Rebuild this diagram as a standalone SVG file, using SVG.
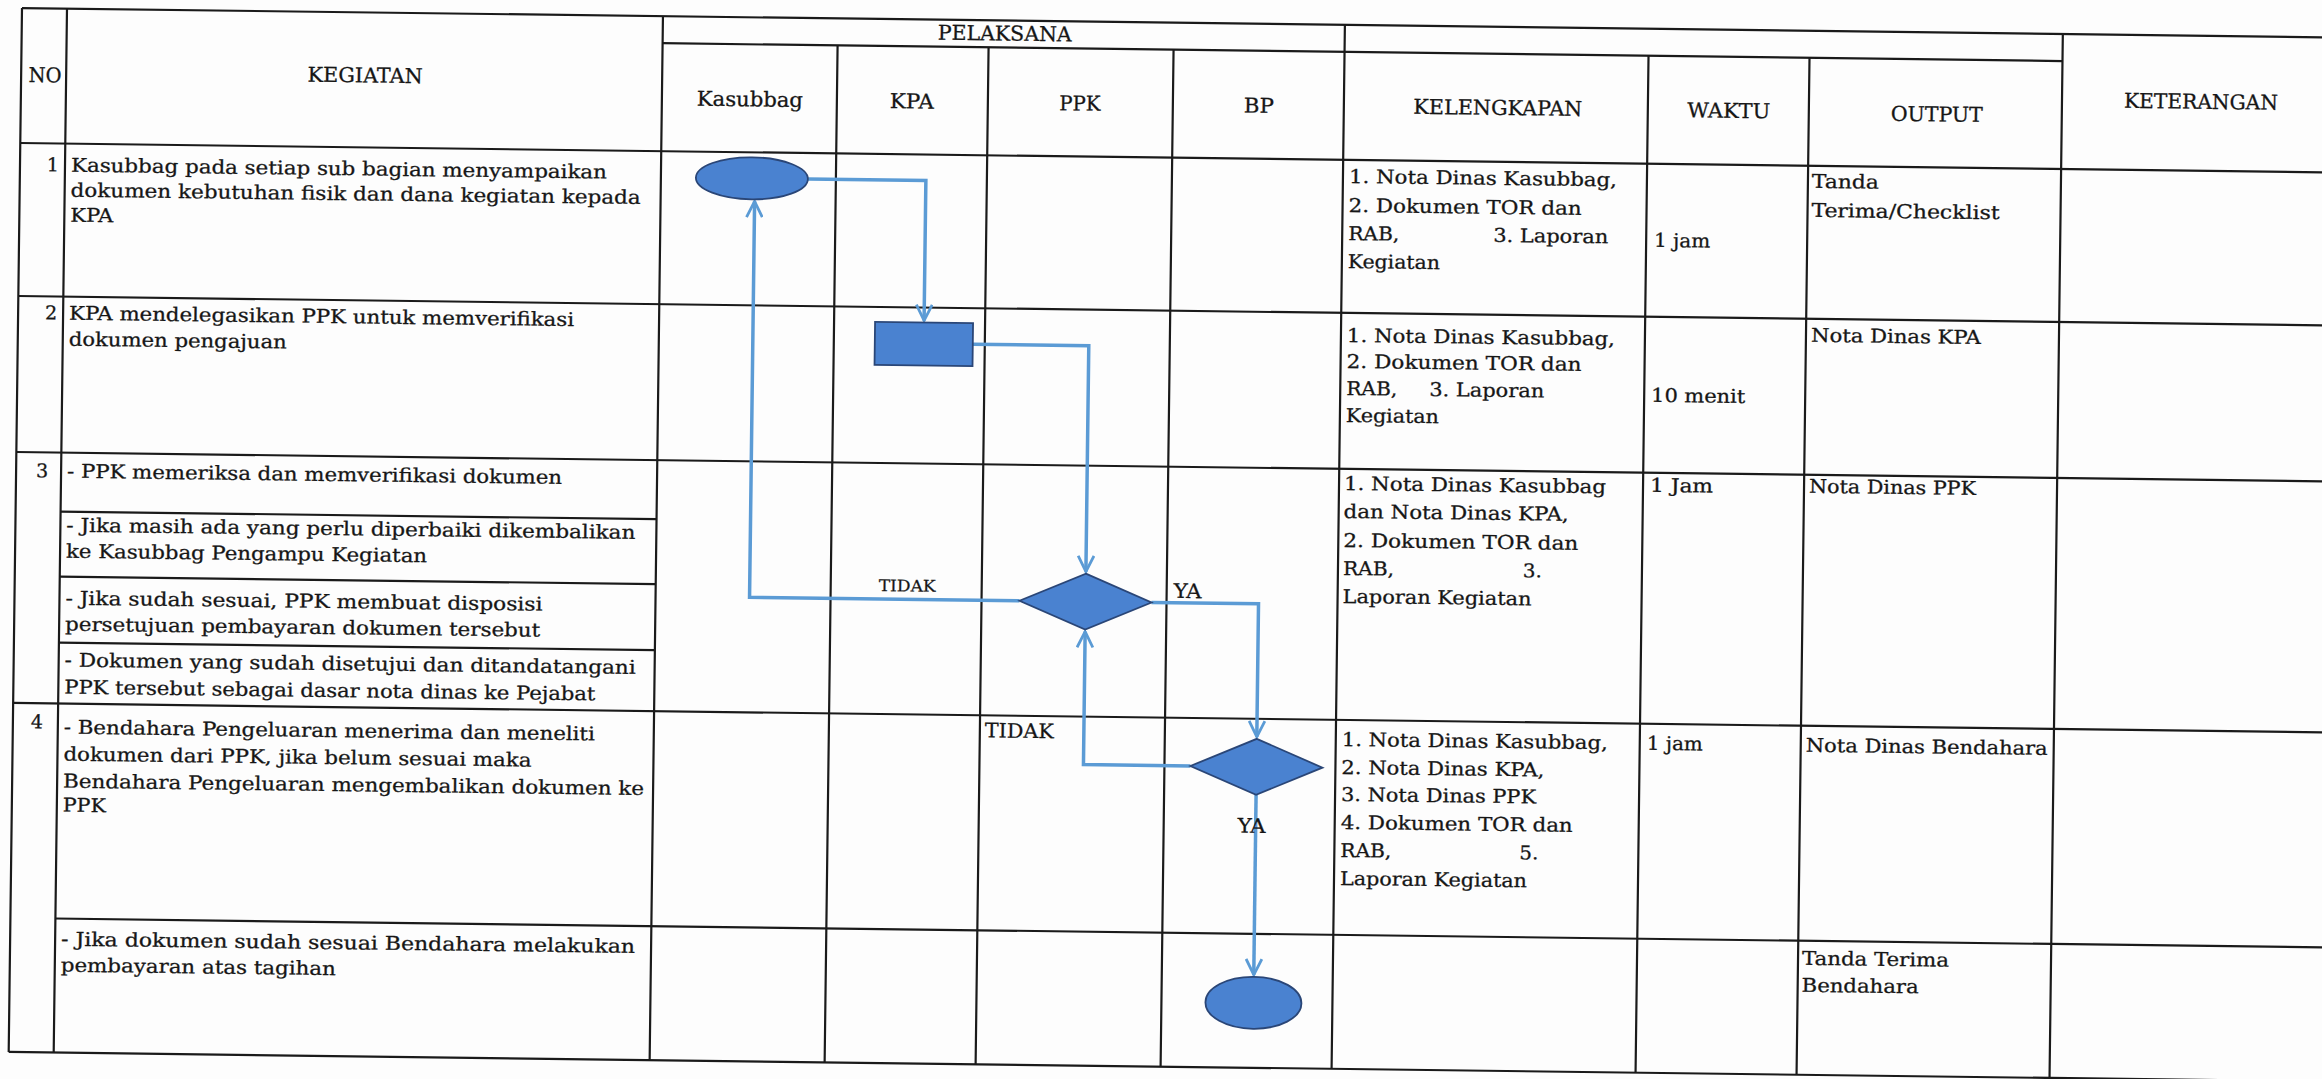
<svg xmlns="http://www.w3.org/2000/svg" width="2322" height="1079" viewBox="0 0 2322 1079">
<defs>
<style>
.ln{stroke:#1a1a1a;stroke-width:2.2;fill:none}
.t{font-family:"DejaVu Serif","Liberation Serif",serif;font-size:19px;fill:#161616;stroke:#161616;stroke-width:0.3}
.h{font-family:"DejaVu Serif","Liberation Serif",serif;font-size:20.5px;fill:#161616;stroke:#161616;stroke-width:0.3;text-anchor:middle}
.lb{font-family:"DejaVu Serif","Liberation Serif",serif;fill:#161616;stroke:#161616;stroke-width:0.25}
.c{stroke:#5b9bd5;stroke-width:3.5;fill:none}
.shape{fill:#4a82d0;stroke:#2a4677;stroke-width:1.8}
</style>
<marker id="arr" viewBox="0 0 16 16" refX="15" refY="8" markerWidth="18" markerHeight="18" markerUnits="userSpaceOnUse" orient="auto">
<path d="M1,1 L15,8 L1,15" fill="none" stroke="#5b9bd5" stroke-width="2.5"/>
</marker>
</defs>
<rect width="2322" height="1079" fill="#fdfdfd"/>
<g transform="rotate(0.73 20 8)">
<g id="table" class="ln">
<path d="M22,8 H2360 M663,35 H2063 M22,143 H2360 M22,296 H2360 M22,452 H2360 M67,511 H663 M67,576 H663 M67,642 H663 M22,703 H2360 M67,918 H2360 M22,1052 H2360"/>
<path d="M22,8 V1052 M67,8 V1052 M663,8 V1052 M838,35 V1052 M989,35 V1052 M1174,35 V1052 M1345,8 V1052 M1649,35 V1052 M1810,35 V1052 M2063,8 V1052"/>
</g>
<g id="header">
<text class="h" x="46" y="82" textLength="33" lengthAdjust="spacingAndGlyphs">NO</text>
<text class="h" x="366" y="78" textLength="115" lengthAdjust="spacingAndGlyphs">KEGIATAN</text>
<text class="h" x="1005" y="28" textLength="134" lengthAdjust="spacingAndGlyphs">PELAKSANA</text>
<text class="h" x="751" y="97" textLength="106" lengthAdjust="spacingAndGlyphs">Kasubbag</text>
<text class="h" x="913" y="97" textLength="44" lengthAdjust="spacingAndGlyphs">KPA</text>
<text class="h" x="1081" y="97" textLength="41" lengthAdjust="spacingAndGlyphs">PPK</text>
<text class="h" x="1260" y="97" textLength="30" lengthAdjust="spacingAndGlyphs">BP</text>
<text class="h" x="1499" y="96" textLength="169" lengthAdjust="spacingAndGlyphs">KELENGKAPAN</text>
<text class="h" x="1730" y="96" textLength="83" lengthAdjust="spacingAndGlyphs">WAKTU</text>
<text class="h" x="1938" y="97" textLength="92" lengthAdjust="spacingAndGlyphs">OUTPUT</text>
<text class="h" x="2202" y="81" textLength="154" lengthAdjust="spacingAndGlyphs">KETERANGAN</text>
</g>
<g id="kegiatan">
<text class="t" x="61" y="171" text-anchor="end">1</text>
<text class="t" x="61" y="319" text-anchor="end">2</text>
<text class="t" x="42" y="477">3</text>
<text class="t" x="40" y="728">4</text>
<text class="t" x="73" y="171" textLength="536" lengthAdjust="spacingAndGlyphs">Kasubbag pada setiap sub bagian menyampaikan</text>
<text class="t" x="73" y="196" textLength="570" lengthAdjust="spacingAndGlyphs">dokumen kebutuhan fisik dan dana kegiatan kepada</text>
<text class="t" x="73" y="221" textLength="43" lengthAdjust="spacingAndGlyphs">KPA</text>
<text class="t" x="73" y="319" textLength="505" lengthAdjust="spacingAndGlyphs">KPA mendelegasikan PPK untuk memverifikasi</text>
<text class="t" x="73" y="345" textLength="218" lengthAdjust="spacingAndGlyphs">dokumen pengajuan</text>
<text class="t" x="73" y="477" textLength="495" lengthAdjust="spacingAndGlyphs">- PPK memeriksa dan memverifikasi dokumen</text>
<text class="t" x="73" y="531" textLength="569" lengthAdjust="spacingAndGlyphs">- Jika masih ada yang perlu diperbaiki dikembalikan</text>
<text class="t" x="73" y="557" textLength="361" lengthAdjust="spacingAndGlyphs">ke Kasubbag Pengampu Kegiatan</text>
<text class="t" x="73" y="604" textLength="477" lengthAdjust="spacingAndGlyphs">- Jika sudah sesuai, PPK membuat disposisi</text>
<text class="t" x="73" y="630" textLength="475" lengthAdjust="spacingAndGlyphs">persetujuan pembayaran dokumen tersebut</text>
<text class="t" x="73" y="666" textLength="571" lengthAdjust="spacingAndGlyphs">- Dokumen yang sudah disetujui dan ditandatangani</text>
<text class="t" x="73" y="693" textLength="531" lengthAdjust="spacingAndGlyphs">PPK tersebut sebagai dasar nota dinas ke Pejabat</text>
<text class="t" x="73" y="733" textLength="531" lengthAdjust="spacingAndGlyphs">- Bendahara Pengeluaran menerima dan meneliti</text>
<text class="t" x="73" y="760" textLength="468" lengthAdjust="spacingAndGlyphs">dokumen dari PPK, jika belum sesuai maka</text>
<text class="t" x="73" y="787" textLength="581" lengthAdjust="spacingAndGlyphs">Bendahara Pengeluaran mengembalikan dokumen ke</text>
<text class="t" x="73" y="811" textLength="43" lengthAdjust="spacingAndGlyphs">PPK</text>
<text class="t" x="73" y="945" textLength="574" lengthAdjust="spacingAndGlyphs">- Jika dokumen sudah sesuai Bendahara melakukan</text>
<text class="t" x="73" y="971" textLength="275" lengthAdjust="spacingAndGlyphs">pembayaran atas tagihan</text>
</g>
<g id="kelengkapan">
<text class="t" x="1351" y="166" textLength="268" lengthAdjust="spacingAndGlyphs">1. Nota Dinas Kasubbag,</text>
<text class="t" x="1351" y="195" textLength="233" lengthAdjust="spacingAndGlyphs">2. Dokumen TOR dan</text>
<text class="t" x="1351" y="223" textLength="51" lengthAdjust="spacingAndGlyphs">RAB,</text>
<text class="t" x="1496" y="223" textLength="115" lengthAdjust="spacingAndGlyphs">3. Laporan</text>
<text class="t" x="1351" y="251" textLength="92" lengthAdjust="spacingAndGlyphs">Kegiatan</text>
<text class="t" x="1351" y="325" textLength="268" lengthAdjust="spacingAndGlyphs">1. Nota Dinas Kasubbag,</text>
<text class="t" x="1351" y="351" textLength="235" lengthAdjust="spacingAndGlyphs">2. Dokumen TOR dan</text>
<text class="t" x="1351" y="378" textLength="51" lengthAdjust="spacingAndGlyphs">RAB,</text>
<text class="t" x="1434" y="378" textLength="115" lengthAdjust="spacingAndGlyphs">3. Laporan</text>
<text class="t" x="1351" y="405" textLength="93" lengthAdjust="spacingAndGlyphs">Kegiatan</text>
<text class="t" x="1350" y="473" textLength="262" lengthAdjust="spacingAndGlyphs">1. Nota Dinas Kasubbag</text>
<text class="t" x="1350" y="501" textLength="225" lengthAdjust="spacingAndGlyphs">dan Nota Dinas KPA,</text>
<text class="t" x="1350" y="530" textLength="235" lengthAdjust="spacingAndGlyphs">2. Dokumen TOR dan</text>
<text class="t" x="1350" y="558" textLength="51" lengthAdjust="spacingAndGlyphs">RAB,</text>
<text class="t" x="1530" y="558" textLength="19" lengthAdjust="spacingAndGlyphs">3.</text>
<text class="t" x="1350" y="586" textLength="189" lengthAdjust="spacingAndGlyphs">Laporan Kegiatan</text>
<text class="t" x="1351" y="729" textLength="266" lengthAdjust="spacingAndGlyphs">1. Nota Dinas Kasubbag,</text>
<text class="t" x="1351" y="757" textLength="203" lengthAdjust="spacingAndGlyphs">2. Nota Dinas KPA,</text>
<text class="t" x="1351" y="784" textLength="195" lengthAdjust="spacingAndGlyphs">3. Nota Dinas PPK</text>
<text class="t" x="1351" y="812" textLength="232" lengthAdjust="spacingAndGlyphs">4. Dokumen TOR dan</text>
<text class="t" x="1351" y="840" textLength="51" lengthAdjust="spacingAndGlyphs">RAB,</text>
<text class="t" x="1530" y="840" textLength="19" lengthAdjust="spacingAndGlyphs">5.</text>
<text class="t" x="1351" y="868" textLength="187" lengthAdjust="spacingAndGlyphs">Laporan Kegiatan</text>
</g>
<g id="waktu-output">
<text class="t" x="1657" y="226" textLength="56" lengthAdjust="spacingAndGlyphs">1 jam</text>
<text class="t" x="1656" y="381" textLength="94" lengthAdjust="spacingAndGlyphs">10 menit</text>
<text class="t" x="1656" y="471" textLength="63" lengthAdjust="spacingAndGlyphs">1 Jam</text>
<text class="t" x="1656" y="729" textLength="56" lengthAdjust="spacingAndGlyphs">1 jam</text>
<text class="t" x="1814" y="165" textLength="67" lengthAdjust="spacingAndGlyphs">Tanda</text>
<text class="t" x="1814" y="194" textLength="188" lengthAdjust="spacingAndGlyphs">Terima/Checklist</text>
<text class="t" x="1815" y="319" textLength="170" lengthAdjust="spacingAndGlyphs">Nota Dinas KPA</text>
<text class="t" x="1815" y="470" textLength="167" lengthAdjust="spacingAndGlyphs">Nota Dinas PPK</text>
<text class="t" x="1815" y="729" textLength="242" lengthAdjust="spacingAndGlyphs">Nota Dinas Bendahara</text>
<text class="t" x="1814" y="942" textLength="147" lengthAdjust="spacingAndGlyphs">Tanda Terima</text>
<text class="t" x="1814" y="969" textLength="117" lengthAdjust="spacingAndGlyphs">Bendahara</text>
</g>
<g id="connectors">
<path class="c" d="M810,169 H928 V309" marker-end="url(#arr)"/>
<path class="c" d="M977,332 H1093 V558" marker-end="url(#arr)"/>
<path class="c" d="M1027,588 H757 V192" marker-end="url(#arr)"/>
<path class="c" d="M1159,588 H1266 V721" marker-end="url(#arr)"/>
<path class="c" d="M1200,751 H1093 V618" marker-end="url(#arr)"/>
<path class="c" d="M1266,779 V959" marker-end="url(#arr)"/>
<text class="lb" x="886" y="580" font-size="16" textLength="57" lengthAdjust="spacingAndGlyphs">TIDAK</text>
<text class="lb" x="1181" y="583" font-size="20" textLength="28" lengthAdjust="spacingAndGlyphs">YA</text>
<text class="lb" x="994" y="725" font-size="20" textLength="69" lengthAdjust="spacingAndGlyphs">TIDAK</text>
<text class="lb" x="1248" y="817" font-size="20" textLength="28" lengthAdjust="spacingAndGlyphs">YA</text>
</g>
<g id="node-start"><ellipse class="shape" cx="754" cy="169" rx="56" ry="21"/></g>
<g id="node-kpa"><rect class="shape" x="879" y="311" width="98" height="43"/></g>
<g id="node-ppk-decision"><polygon class="shape" points="1093,560 1159,588 1093,616 1027,588"/></g>
<g id="node-bp-decision"><polygon class="shape" points="1266,723 1332,751 1266,779 1200,751"/></g>
<g id="node-end"><ellipse class="shape" cx="1266" cy="987" rx="48" ry="26"/></g>
</g>
</svg>
